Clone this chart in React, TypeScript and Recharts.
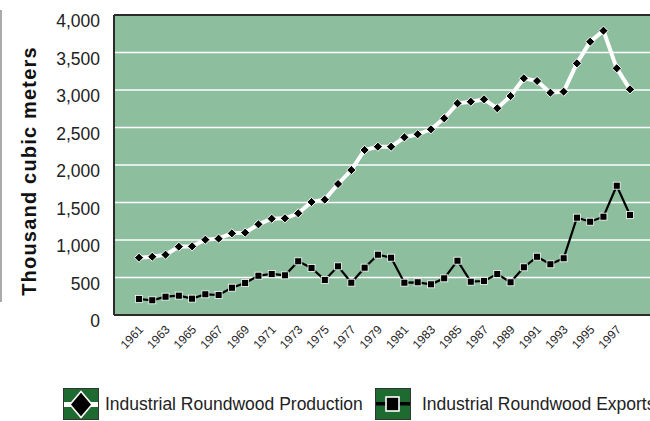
import React from "react";
import { LineChart, Line, XAxis, YAxis, CartesianGrid, ReferenceLine } from "recharts";

const YEARS = [
  1961, 1962, 1963, 1964, 1965, 1966, 1967, 1968, 1969, 1970,
  1971, 1972, 1973, 1974, 1975, 1976, 1977, 1978, 1979, 1980,
  1981, 1982, 1983, 1984, 1985, 1986, 1987, 1988, 1989, 1990,
  1991, 1992, 1993, 1994, 1995, 1996, 1997, 1998,
];

const PRODUCTION = [
  764, 777, 804, 911, 916, 1004, 1018, 1089, 1098, 1209,
  1284, 1289, 1356, 1507, 1538, 1747, 1933, 2200, 2244, 2244,
  2369, 2409, 2476, 2622, 2822, 2844, 2876, 2756, 2920, 3156,
  3120, 2964, 2978, 3356, 3644, 3791, 3289, 3009,
];

const EXPORTS = [
  213, 196, 244, 258, 218, 276, 267, 364, 427, 524,
  547, 529, 716, 627, 467, 649, 431, 631, 804, 764,
  431, 436, 409, 489, 724, 444, 453, 547, 436, 636,
  777, 676, 756, 1298, 1244, 1311, 1724, 1333,
];

const X_TICKS = [
  1961, 1963, 1965, 1967, 1969, 1971, 1973, 1975, 1977, 1979,
  1981, 1983, 1985, 1987, 1989, 1991, 1993, 1995, 1997,
];
const Y_TICKS = [0, 500, 1000, 1500, 2000, 2500, 3000, 3500, 4000];

const SERIES_NAMES = ["Industrial Roundwood Production", "Industrial Roundwood Exports"];
const Y_TITLE = "Thousand cubic meters";

const data = YEARS.map((year, i) => ({
  year,
  production: PRODUCTION[i],
  exports: EXPORTS[i],
}));

const FONT = "'Liberation Sans', Arial, sans-serif";
const PLOT_BG = "#8dbf9f";
const ICON_GREEN = "#1d6b30";

const fmt = (v: number) => v.toLocaleString("en-US");

const DiamondDot = (props: any) => {
  const { cx, cy } = props;
  if (cx == null || cy == null) return null;
  const r = 4.6;
  return (
    <polygon
      points={`${cx},${cy - r} ${cx + r},${cy} ${cx},${cy + r} ${cx - r},${cy}`}
      fill="#000"
      stroke="#fff"
      strokeWidth={1}
    />
  );
};

const SquareDot = (props: any) => {
  const { cx, cy } = props;
  if (cx == null || cy == null) return null;
  const s = 7;
  return <rect x={cx - s / 2} y={cy - s / 2} width={s} height={s} fill="#000" stroke="#fff" strokeWidth={0.8} />;
};

const XTick = (props: any) => {
  const { x, payload } = props;
  const ax = x + 5;
  const ay = 330;
  return (
    <text
      x={ax}
      y={ay}
      transform={`rotate(-47 ${ax} ${ay})`}
      textAnchor="end"
      fontSize={12}
      fontFamily={FONT}
      fill="#222"
    >
      {payload.value}
    </text>
  );
};

const YTick = (props: any) => {
  const { x, y, payload } = props;
  return (
    <text x={x} y={y + 6} dy="0.355em" textAnchor="end" fontSize={17.5} fontFamily={FONT} fill="#222">
      {fmt(payload.value)}
    </text>
  );
};

const LegendBlock = () => (
  <div style={{ position: "absolute", left: 0, top: 388, width: 650, height: 33, fontFamily: FONT }}>
    <svg width={36} height={32} style={{ position: "absolute", left: 63, top: 0 }}>
      <rect x={0.5} y={0.5} width={35} height={31} fill={ICON_GREEN} stroke="#333" strokeWidth={1} />
      <rect x={1} y={14} width={34} height={5} fill="#fff" />
      <polygon points="18,3.5 29,16.5 18,29.5 7,16.5" fill="#000" stroke="#fff" strokeWidth={1.6} />
    </svg>
    <span style={{ position: "absolute", left: 105, top: 6, fontSize: 17.5, color: "#222", whiteSpace: "nowrap" }}>
      {SERIES_NAMES[0]}
    </span>
    <svg width={36} height={32} style={{ position: "absolute", left: 375, top: 0 }}>
      <rect x={0.5} y={0.5} width={35} height={31} fill={ICON_GREEN} stroke="#333" strokeWidth={1} />
      <rect x={1} y={14} width={34} height={3.5} fill="#000" />
      <rect x={11} y={9} width={13} height={14} fill="#000" stroke="#fff" strokeWidth={1.6} />
    </svg>
    <span style={{ position: "absolute", left: 422, top: 6, fontSize: 17.5, color: "#222", whiteSpace: "nowrap" }}>
      {SERIES_NAMES[1]}
    </span>
  </div>
);

export default function App() {
  return (
    <div style={{ position: "absolute", left: 0, top: 0, width: 650, height: 421, overflow: "hidden", background: "#fff" }}>
      <div style={{ position: "absolute", left: 0, top: 10, width: 2, height: 292, background: "#aaa" }} />
      <LineChart width={650} height={421} data={data} margin={{ top: 15, right: 0, bottom: 46, left: 0 }}>
        <CartesianGrid vertical={false} fill={PLOT_BG} stroke="#fff" strokeWidth={1.3} />
        <XAxis
          dataKey="year"
          ticks={X_TICKS}
          interval={0}
          padding={{ left: 25, right: 20 }}
          height={60}
          tickLine={false}
          axisLine={{ stroke: "#2b2b2b", strokeWidth: 2 }}
          tick={<XTick />}
        />
        <YAxis
          domain={[0, 4000]}
          ticks={Y_TICKS}
          width={114}
          tickLine={false}
          tickSize={12}
          tickMargin={2}
          axisLine={{ stroke: "#2b2b2b", strokeWidth: 2 }}
          tick={<YTick />}
          label={{
            content: () => (
              <text
                x={36}
                y={171}
                transform="rotate(-90 36 171)"
                textAnchor="middle"
                fontSize={20}
                fontWeight="bold"
                letterSpacing={1.2}
                fontFamily={FONT}
                fill="#111"
              >
                {Y_TITLE}
              </text>
            ),
          }}
        />
        <ReferenceLine y={4000} stroke="#2b2b2b" strokeWidth={2} />
        <Line
          dataKey="production"
          name={SERIES_NAMES[0]}
          stroke="#fff"
          strokeWidth={4}
          dot={<DiamondDot />}
          activeDot={false}
          isAnimationActive={false}
        />
        <Line
          dataKey="exports"
          name={SERIES_NAMES[1]}
          stroke="#000"
          strokeWidth={2.2}
          dot={<SquareDot />}
          activeDot={false}
          isAnimationActive={false}
        />
      </LineChart>
      <LegendBlock />
    </div>
  );
}
